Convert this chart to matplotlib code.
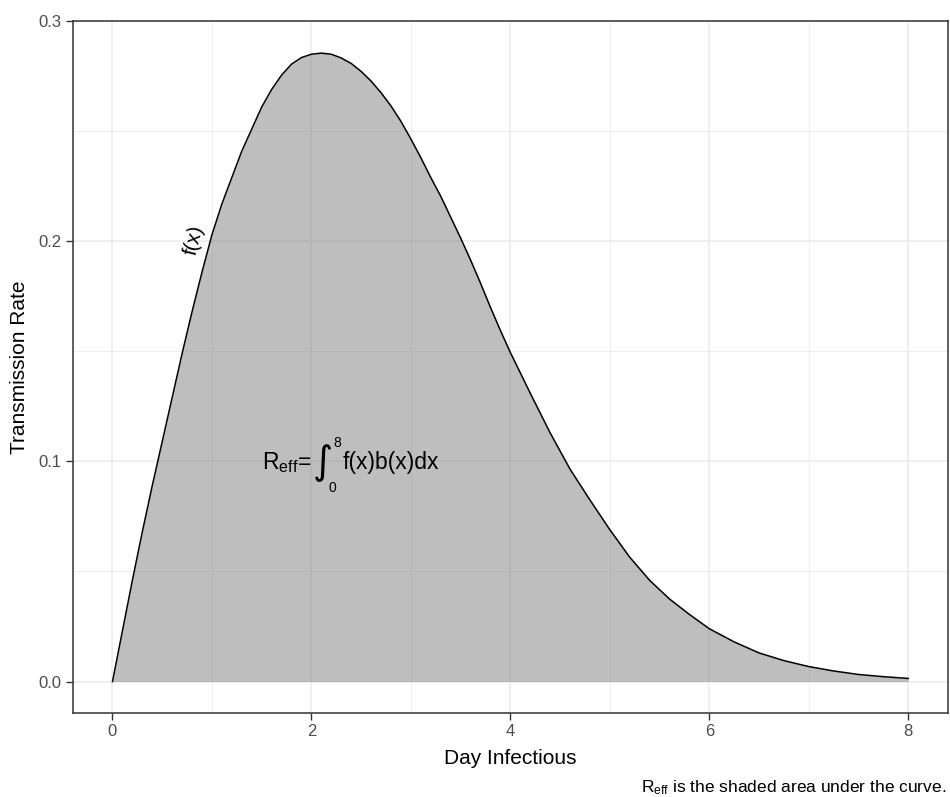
import matplotlib
matplotlib.use("Agg")
import matplotlib.pyplot as plt
from matplotlib.ticker import MultipleLocator

plt.rcParams['font.family'] = ['Liberation Sans', 'DejaVu Sans']
plt.rcParams['mathtext.fontset'] = 'custom'
plt.rcParams['mathtext.rm'] = 'Liberation Sans'
plt.rcParams['mathtext.sf'] = 'Liberation Sans'
plt.rcParams['mathtext.it'] = 'Liberation Sans:italic'

# Data
day = [0, 0.1, 0.2, 0.3, 0.4, 0.5, 0.6, 0.7, 0.8, 0.9, 1.0, 1.1, 1.2, 1.3, 1.4,
       1.5, 1.6, 1.7, 1.8, 1.9, 2.0, 2.1, 2.2, 2.3, 2.4, 2.5, 2.6, 2.7, 2.8,
       2.9, 3.0, 3.1, 3.2, 3.3, 3.4, 3.5, 3.6, 3.7, 3.8, 3.9, 4.0, 4.2, 4.4,
       4.6, 4.8, 5.0, 5.2, 5.4, 5.6, 5.8, 6.0, 6.25, 6.5, 6.75, 7.0, 7.25,
       7.5, 7.75, 8.0]
rate = [0.0, 0.023, 0.046, 0.068, 0.089, 0.109, 0.129, 0.149, 0.168, 0.186,
        0.203, 0.217, 0.229, 0.241, 0.251, 0.261, 0.269, 0.2755, 0.2805,
        0.2835, 0.2850, 0.2855, 0.2850, 0.2833, 0.2808, 0.2772, 0.2728,
        0.2675, 0.2615, 0.2545, 0.2465, 0.238, 0.229, 0.2205, 0.211, 0.2015,
        0.1915, 0.1810, 0.1700, 0.1595, 0.1495, 0.131, 0.113, 0.0965, 0.0825,
        0.0690, 0.0565, 0.0460, 0.0375, 0.0305, 0.0240, 0.0180, 0.0130,
        0.0095, 0.0068, 0.0048, 0.0032, 0.0022, 0.0014]
x_ticks = [0, 2, 4, 6, 8]
y_ticks = [0.0, 0.1, 0.2, 0.3]
y_tick_labels = ["0.0", "0.1", "0.2", "0.3"]

W, H = 950, 797
fig = plt.figure(figsize=(W/100, H/100), dpi=100)
ax = fig.add_axes([72.7/W, 1-713/H, (948-72.7)/W, (713-21)/H])

ax.set_xlim(-0.4, 8.4)
ax.set_ylim(-0.0143, 0.3001)
ax.set_xticks(x_ticks)
ax.set_yticks(y_ticks)
ax.set_yticklabels(y_tick_labels)
ax.xaxis.set_minor_locator(MultipleLocator(1))
ax.yaxis.set_minor_locator(MultipleLocator(0.05))
ax.grid(which='major', color='#ebebeb', lw=1.1)
ax.grid(which='minor', color='#ebebeb', lw=0.6)
ax.set_axisbelow(True)
ax.tick_params(which='minor', length=0)
ax.tick_params(which='major', length=5, width=1, color='#333333',
               labelcolor='#4d4d4d', labelsize=12, pad=3)
for s in ax.spines.values():
    s.set_color('#333333')
    s.set_linewidth(1.1)

ax.fill_between(day, rate, 0, color='#7f7f7f', alpha=0.5, lw=0)
ax.plot(day, rate, color='black', lw=1.1)

# f(x) label along the rising edge
ax.text(0.82, 0.2005, 'f(x)', rotation=76, ha='center', va='center',
        fontsize=15, color='black')

# R_eff = integral formula, built from pieces
ax.text(2.0, 0.0964, r'$\mathrm{R_{eff}}$=', ha='right', va='baseline',
        fontsize=16.5, color='black')
ax.text(2.12, 0.0995, '\u222b', ha='center', va='center',
        fontsize=28, color='black', family='DejaVu Sans')
ax.text(2.255, 0.1085, '8', ha='center', va='center', fontsize=10, color='black')
ax.text(2.21, 0.0880, '0', ha='center', va='center', fontsize=10, color='black')
ax.text(2.31, 0.0964, 'f(x)b(x)dx', ha='left', va='baseline',
        fontsize=16.5, color='black')

ax.set_xlabel('Day Infectious', fontsize=15, color='black', labelpad=7)
ax.set_ylabel('Transmission Rate', fontsize=15, color='black', labelpad=7)

fig.text(946/W, 1-792/H, r'$\mathrm{R_{eff}}$ is the shaded area under the curve.',
         ha='right', va='baseline', fontsize=12.5, color='black')

fig.savefig('out.png', dpi=100)
